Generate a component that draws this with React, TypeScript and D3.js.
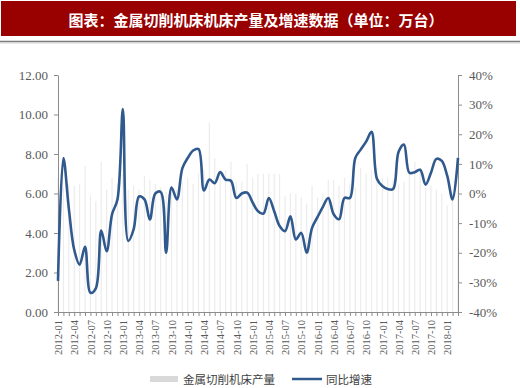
import React, { useEffect, useRef } from 'react';
import * as d3 from 'd3';

// 月份：2012-01 到 2018-03
const years = [2012, 2013, 2014, 2015, 2016, 2017, 2018];
const months = years.flatMap(y => d3.range(1, 13).map(m => `${y}-${String(m).padStart(2, '0')}`)).slice(0, 75);

// 金属切削机床产量（万台）
const output = [
  6.8, 6.3, 6.5, 6.4, 6.5, 7.4, 5.9, 5.6, 7.6, 6.2, 6.8, 6.5,
  7.0, 6.2, 6.4, 6.2, 6.9, 6.7, 6.5, 6.3, 6.1, 6.4, 6.2, 6.6,
  6.8, 6.5, 7.0, 7.2, 9.6, 7.8, 6.8, 7.2, 7.6, 6.6, 6.6, 7.5,
  6.8, 7.0, 7.0, 7.0, 7.0, 7.0, 5.9, 6.0, 6.0, 5.8, 5.5, 6.4,
  5.8, 6.0, 6.7, 6.7, 6.4, 6.8, 6.5, 6.3, 7.3, 7.0, 7.2, 7.3,
  6.8, 6.8, 6.7, 6.5, 6.6, 7.0, 7.6, 7.3, 6.3, 6.4, 6.2, 6.0,
  5.4, 6.0, 6.2,
];

// 同比增速（%）
const growth = [
  -29.5, 12, -5, -19, -24, -18, -33.5, -32, -12.5, -19.5, -7, -2,
  28.5, -16, -12, -1, -2, -8.8, 0, 0.5, -20, 2, -2, 8.5,
  12, 14.5, 15, 1, 4.7, 3.5, 7.2, 4.7, 4.3, -1.5, 0, 0.3,
  -3, -6, -6.8, -1.5, -6, -11, -12.7, -7.7, -15.5, -13.3, -20, -11.6,
  -8, -4.5, -1.5, -7, -8.7, -1.5, -1.5, 12, 14.8, 17.5, 20.8, 5,
  2.5, 1.5, 1.5, 14, 16.5, 7, 7.2, 8, 3, 7, 11.7, 11,
  6, -2, 12,
];

const leftTicks = [0, 2, 4, 6, 8, 10, 12];
const rightTicks = [-40, -30, -20, -10, 0, 10, 20, 30, 40];
const seriesNames = ['金属切削机床产量', '同比增速'];
const title = '图表：金属切削机床机床产量及增速数据（单位：万台）';

const W = 520;
const H = 388;
const margin = { top: 75, right: 62, bottom: 76, left: 58 };
const labelColor = '#595959';
const axisColor = '#8c8c8c';
const lineColor = '#30598e';
const serif = '"Liberation Serif", "Times New Roman", serif';
const cjk = '"Noto Sans CJK SC", sans-serif';

const App = () => {
  const ref = useRef<SVGSVGElement>(null);

  useEffect(() => {
    const svg = d3.select(ref.current);
    svg.selectAll('*').remove();

    const x0 = margin.left;
    const x1 = W - margin.right;
    const y0 = H - margin.bottom;
    const y1 = margin.top;

    const x = d3.scalePoint<string>().domain(months).range([x0, x1]);
    const yL = d3.scaleLinear().domain([0, 12]).range([y0, y1]);
    const yR = d3.scaleLinear().domain([-40, 40]).range([y0, y1]);

    // 标题
    svg.append('rect')
      .attr('x', 1).attr('y', 1).attr('width', 515).attr('height', 35)
      .attr('fill', '#990000');
    svg.append('text')
      .attr('x', 256).attr('y', 19)
      .attr('text-anchor', 'middle').attr('dominant-baseline', 'central')
      .attr('fill', '#fff').attr('font-family', cjk).attr('font-weight', 700)
      .attr('font-size', 15)
      .text(title);
    svg.append('line')
      .attr('x1', 0).attr('x2', W).attr('y1', 41.5).attr('y2', 41.5)
      .attr('stroke', '#7a7a7a').attr('stroke-width', 1.5);
    svg.append('line')
      .attr('x1', 0).attr('x2', W).attr('y1', 43).attr('y2', 43)
      .attr('stroke', '#d0d0d0').attr('stroke-width', 1);

    // 柱
    svg.append('g')
      .selectAll('rect')
      .data(output)
      .enter()
      .append('rect')
      .attr('x', (d, i) => (x(months[i]) as number) - 0.6)
      .attr('y', d => yL(d))
      .attr('width', 1.2)
      .attr('height', d => y0 - yL(d))
      .attr('fill', '#ececec');

    // 坐标轴
    const styleAxis = (g: d3.Selection<SVGGElement, unknown, null, undefined>) => {
      g.select('.domain').attr('stroke', axisColor);
      g.selectAll('.tick line').attr('stroke', axisColor);
      g.selectAll('.tick text')
        .attr('fill', labelColor)
        .attr('font-family', serif);
    };

    const gl = svg.append('g')
      .attr('transform', `translate(${x0},0)`)
      .call(d3.axisLeft(yL).tickValues(leftTicks).tickSize(4).tickSizeOuter(0).tickPadding(6)
        .tickFormat(d => (d as number).toFixed(2)));
    styleAxis(gl);
    gl.selectAll('.tick text').attr('font-size', 13);

    const gr = svg.append('g')
      .attr('transform', `translate(${x1},0)`)
      .call(d3.axisRight(yR).tickValues(rightTicks).tickSize(4).tickSizeOuter(0).tickPadding(7)
        .tickFormat(d => `${d}%`));
    styleAxis(gr);
    gr.selectAll('.tick text').attr('font-size', 13);

    const gb = svg.append('g')
      .attr('transform', `translate(0,${y0})`)
      .call(d3.axisBottom(x).tickSize(4).tickSizeOuter(0)
        .tickFormat((d, i) => (i % 3 === 0 ? d : '')));
    styleAxis(gb);
    gb.selectAll('.tick text')
      .attr('font-size', 10.5)
      .attr('transform', 'rotate(-90)')
      .attr('text-anchor', 'end')
      .attr('x', -8)
      .attr('y', 0)
      .attr('dy', '0.35em');

    // 折线
    const line = d3.line<number>()
      .x((d, i) => x(months[i]) as number)
      .y(d => yR(d))
      .curve(d3.curveCatmullRom.alpha(0.5));

    svg.append('path')
      .datum(growth)
      .attr('fill', 'none')
      .attr('stroke', lineColor)
      .attr('stroke-width', 2.6)
      .attr('stroke-linejoin', 'round')
      .attr('d', line);

    // 图例
    const ly = 379;
    svg.append('rect')
      .attr('x', 150).attr('y', ly - 3).attr('width', 28).attr('height', 6)
      .attr('fill', '#d9d9d9');
    svg.append('text')
      .attr('x', 183).attr('y', ly)
      .attr('dominant-baseline', 'central')
      .attr('font-family', cjk).attr('font-size', 11.5).attr('fill', '#404040')
      .text(seriesNames[0]);
    svg.append('line')
      .attr('x1', 292).attr('x2', 322).attr('y1', ly).attr('y2', ly)
      .attr('stroke', lineColor).attr('stroke-width', 2.5);
    svg.append('text')
      .attr('x', 326).attr('y', ly)
      .attr('dominant-baseline', 'central')
      .attr('font-family', cjk).attr('font-size', 11.5).attr('fill', '#404040')
      .text(seriesNames[1]);
  }, []);

  return (
    <svg
      ref={ref}
      width={W}
      height={H}
      style={{ position: 'absolute', left: 0, top: 0, background: '#fff' }}
    />
  );
};

export default App;
